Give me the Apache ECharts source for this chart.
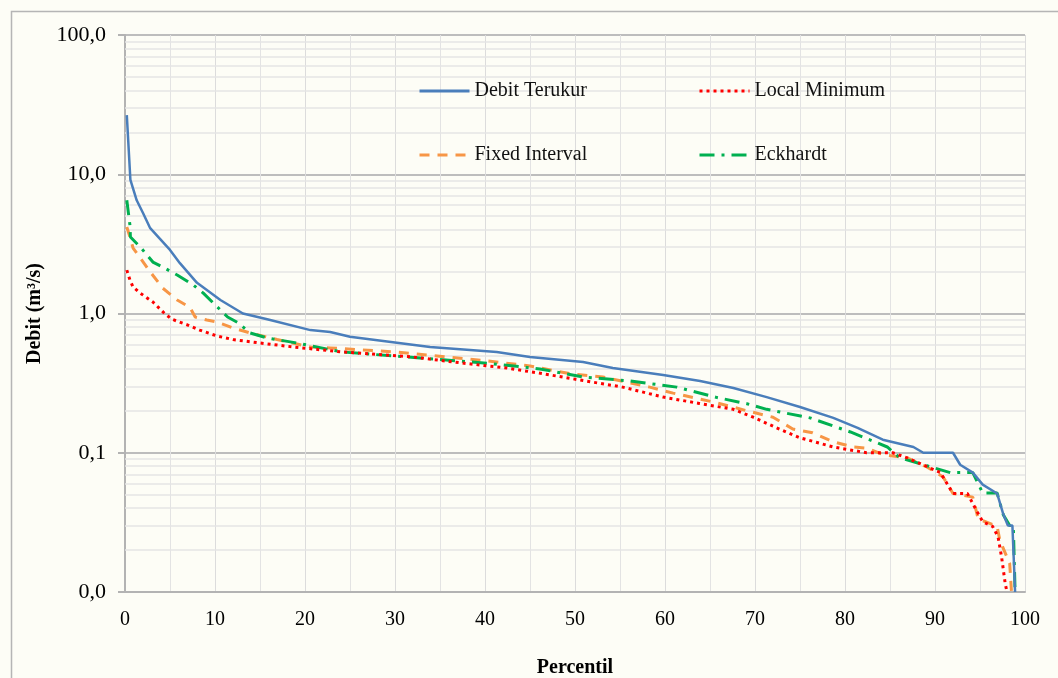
<!DOCTYPE html>
<html><head><meta charset="utf-8">
<script src="https://cdn.jsdelivr.net/npm/echarts@6/dist/echarts.min.js"></script>
<style>html,body{margin:0;padding:0;background:#fdfdf6;}#c{width:1058px;height:678px;}</style>
</head><body><div id="c"></div>
<script>
// Data (percentile -> discharge m3/s)
var pctTerukur = [0.2,0.6,1.3,2.0,2.8,5.0,6.1,8.0,10.6,13.1,15.8,20.6,22.8,25.0,33.9,41.3,45.0,50.9,54.2,59.8,63.9,67.6,71.3,75.0,78.7,81.4,84.2,87.6,88.7,92.0,92.8,94.2,95.3,96.9,97.6,98.1,98.6,98.9];
var valTerukur = [26.6,9.1,6.5,5.27,4.1,2.86,2.3,1.66,1.25,1.0,0.91,0.76,0.736,0.68,0.575,0.529,0.487,0.449,0.406,0.362,0.328,0.292,0.251,0.213,0.178,0.151,0.124,0.11,0.1,0.1,0.082,0.072,0.059,0.051,0.036,0.03,0.03,0.01];

var pctLocal = [0.2,0.55,0.9,1.7,3.1,4.4,5.2,6.9,8.3,10.2,12.0,15.0,18.7,22.8,24.2,32.0,36.4,42.4,46.4,50.9,55.3,59.8,63.8,67.6,69.8,72.4,75.0,78.7,82.4,85.3,86.9,90.6,92.0,93.6,94.7,95.3,96.4,97.0,97.4,97.8,98.0];
var valLocal = [2.05,1.74,1.55,1.4,1.21,1.0,0.91,0.83,0.76,0.69,0.65,0.614,0.575,0.54,0.53,0.487,0.449,0.406,0.37,0.33,0.296,0.251,0.226,0.205,0.18,0.151,0.128,0.11,0.1,0.1,0.092,0.072,0.051,0.051,0.0375,0.032,0.0296,0.025,0.0178,0.0115,0.01];

var pctFixed = [0.2,0.55,0.9,1.7,2.8,4.2,5.8,7.2,7.8,9.1,10.2,12.0,13.9,16.9,20.6,22.8,25.8,30.2,39.8,45.0,49.4,53.1,58.3,60.9,65.3,69.4,72.0,74.2,76.4,78.7,80.9,82.4,84.2,86.9,89.1,90.9,92.0,94.2,94.8,96.9,97.2,98.3,98.5];
var valFixed = [4.18,3.54,2.95,2.5,1.99,1.52,1.25,1.11,0.944,0.898,0.87,0.787,0.725,0.65,0.575,0.566,0.55,0.529,0.46,0.42,0.37,0.35,0.296,0.268,0.232,0.198,0.18,0.148,0.139,0.12,0.11,0.108,0.097,0.092,0.079,0.067,0.051,0.048,0.0335,0.0296,0.0236,0.016,0.01];

var pctEck = [0.2,0.55,0.6,1.7,3.1,4.4,5.8,7.6,8.7,9.8,11.4,12.6,13.9,15.8,19.1,22.8,24.2,31.3,40.2,46.1,50.9,56.1,61.3,65.8,69.1,71.3,76.1,80.6,84.7,86.1,91.7,94.2,95.3,96.9,97.6,98.3,98.7,98.9];
var valEck = [6.5,4.3,3.54,3.0,2.34,2.12,1.89,1.6,1.4,1.19,0.944,0.855,0.725,0.667,0.614,0.55,0.529,0.487,0.44,0.4,0.35,0.328,0.296,0.249,0.225,0.205,0.178,0.141,0.11,0.092,0.072,0.072,0.0514,0.0514,0.0357,0.03,0.03,0.01];

var minorGridValues = [0.02,0.03,0.04,0.05,0.06,0.07,0.08,0.09,0.2,0.3,0.4,0.5,0.6,0.7,0.8,0.9,2,3,4,5,6,7,8,9,20,30,40,50,60,70,80,90];

function zip(a, b) { return a.map(function (x, i) { return [x, b[i]]; }); }

var chart = echarts.init(document.getElementById('c'), null, {renderer: 'canvas'});
var serif = '"Liberation Serif","Times New Roman",serif';
function legendAt(left, names) {
  return {
    orient: 'vertical', left: left, top: 76, z: 10, itemWidth: 50, itemHeight: 14, itemGap: 44,
    selectedMode: false,
    textStyle: {fontFamily: serif, fontSize: 20, color: '#111'},
    itemStyle: {color: 'rgba(0,0,0,0)', borderColor: 'rgba(0,0,0,0)', borderWidth: 0},
    lineStyle: {width: 3},
    data: names
  };
}

chart.setOption({
  backgroundColor: '#fdfdf6',
  animation: false,
  grid: {left: 125, top: 35, width: 900, height: 557, containLabel: false, outerBoundsMode: 'none'},
  graphic: [{
    type: 'rect', left: 9, top: 9, silent: true, z: -1,
    shape: {width: 1070, height: 700},
    style: {fill: 'none', stroke: '#b5b5b5', lineWidth: 1.5}
  }],
  legend: [legendAt(413, ['Debit Terukur', 'Fixed Interval']), legendAt(693, ['Local Minimum', 'Eckhardt'])],
  xAxis: {
    type: 'value', min: 0, max: 100, interval: 10,
    name: 'Percentil', nameLocation: 'middle', nameGap: 66,
    nameTextStyle: {fontFamily: serif, fontSize: 20, fontWeight: 'bold', color: '#000'},
    axisLine: {show: true, onZero: false, lineStyle: {color: '#b3b3b3', width: 2}},
    axisTick: {show: false},
    axisLabel: {fontFamily: serif, fontSize: 20, color: '#000', margin: 18},
    splitLine: {show: true, lineStyle: {color: '#dcdcdc', width: 1}},
    minorTick: {show: false, splitNumber: 2},
    minorSplitLine: {show: true, lineStyle: {color: '#e3e3e3', width: 1}}
  },
  yAxis: {
    type: 'log', logBase: 10, min: 0.01, max: 100, splitNumber: 4,
    name: 'Debit (m³/s)', nameLocation: 'middle', nameGap: 80, nameRotate: 90,
    nameTextStyle: {fontFamily: serif, fontSize: 20, fontWeight: 'bold', color: '#000'},
    axisLine: {show: true, lineStyle: {color: '#b3b3b3', width: 2}},
    axisTick: {show: true, length: 7, lineStyle: {color: '#b3b3b3', width: 2}},
    axisLabel: {fontFamily: serif, fontSize: 22, color: '#000', margin: 19,
      formatter: function (v) { return (+v).toFixed(1).replace('.', ','); }},
    splitLine: {show: true, lineStyle: {color: '#bdbdbd', width: 2}}
  },
  series: [{
    name: 'minor-grid', type: 'line', data: [], z: 1, silent: true,
    markLine: {
      silent: true, symbol: ['none', 'none'], label: {show: false}, z: 1,
      lineStyle: {color: '#e4e4e4', width: 1.5, type: 'solid'},
      data: minorGridValues.map(function (v) { return {yAxis: v}; })
    }
  }, {
    name: 'Debit Terukur', type: 'line', symbol: 'none', z: 3,
    data: zip(pctTerukur, valTerukur),
    lineStyle: {color: '#4a7ebb', width: 2.5, type: 'solid'},
    itemStyle: {color: '#4a7ebb'}
  }, {
    name: 'Local Minimum', type: 'line', symbol: 'none', z: 3,
    data: zip(pctLocal, valLocal),
    lineStyle: {color: '#ff0000', width: 3, type: [3, 4]},
    itemStyle: {color: '#ff0000'}
  }, {
    name: 'Fixed Interval', type: 'line', symbol: 'none', z: 2,
    data: zip(pctFixed, valFixed),
    lineStyle: {color: '#f79646', width: 3, type: [10, 8]},
    itemStyle: {color: '#f79646'}
  }, {
    name: 'Eckhardt', type: 'line', symbol: 'none', z: 2,
    data: zip(pctEck, valEck),
    lineStyle: {color: '#00b050', width: 3, type: [15, 7, 3, 7]},
    itemStyle: {color: '#00b050'}
  }]
});
</script>
</body></html>
